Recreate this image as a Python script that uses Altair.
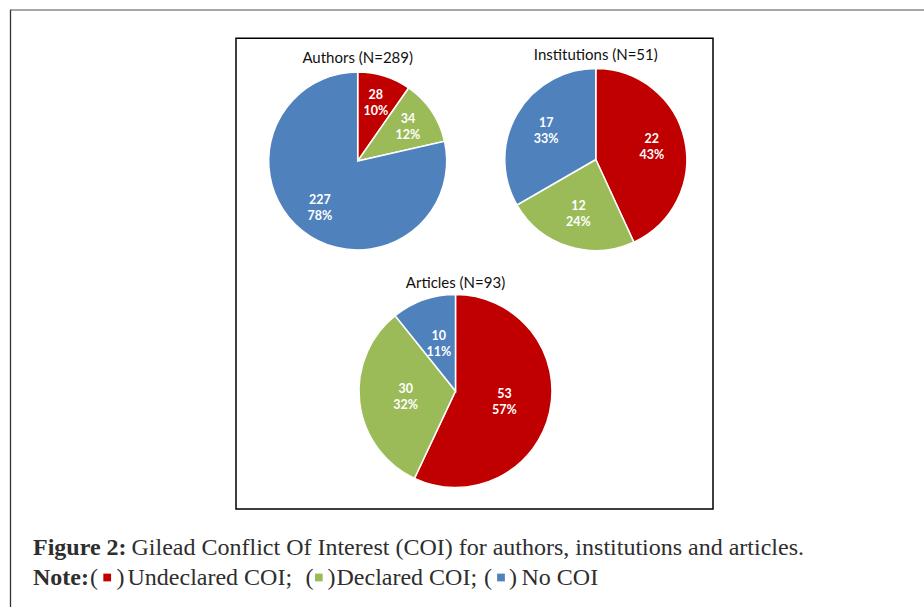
import altair as alt
import pandas as pd

# ---- data ----
categories = ["Undeclared COI", "Declared COI", "No COI"]
colors = ["#C00000", "#9BBB59", "#4F81BD"]

pie_names = ["Authors", "Institutions", "Articles"]
authors_values = [28, 34, 227]
authors_pct = [10, 12, 78]
institutions_values = [22, 12, 17]
institutions_pct = [43, 24, 33]
articles_values = [53, 30, 10]
articles_pct = [57, 32, 11]

caption_title = "Figure 2:"
caption_text = "Gilead Conflict Of Interest (COI) for authors, institutions and articles."
note_label = "Note:"
item_text = ["Undeclared COI;", "Declared COI;", "No COI"]

W, H = 924, 607
color_scale = alt.Scale(domain=categories, range=colors)
LABEL_FONT = "Lato"
SERIF = "Liberation Serif"
CAP_COLOR = "#2e2e2e"
LINE_H = 16


def pie(name, values, pct, cx, cy, r, ty, lab_frac=0.6):
    df = pd.DataFrame({"cat": categories, "value": values, "pct": pct,
                       "idx": list(range(len(categories)))})
    base = alt.Chart(df).encode(
        theta=alt.Theta("value:Q", stack="normalize"),
        color=alt.Color("cat:N", scale=color_scale, legend=None),
        order=alt.Order("idx:Q"),
        x=alt.value(cx),
        y=alt.value(cy),
    )
    arcs = base.mark_arc(outerRadius=r, stroke="white", strokeWidth=1.5)
    labels = base.transform_calculate(
        label="datum.value + '\\n' + datum.pct + '%'"
    ).mark_text(
        radius=r * lab_frac, font=LABEL_FONT, fontSize=12.5, fontWeight="bold",
        lineBreak="\n", lineHeight=LINE_H, baseline="middle", align="center",
        dy=-LINE_H / 2,
    ).encode(text="label:N", color=alt.value("white"))
    title = alt.Chart(pd.DataFrame({"t": [f"{name} (N={sum(values)})"]})).mark_text(
        font=LABEL_FONT, fontSize=15, color="#111111", baseline="middle", align="center"
    ).encode(text="t:N", x=alt.value(cx), y=alt.value(ty))
    return [arcs, labels, title]


def txt(s, x, y, bold=False, size=24):
    return alt.Chart(pd.DataFrame({"t": [s]})).mark_text(
        font=SERIF, fontSize=size, fontWeight="bold" if bold else "normal",
        color=CAP_COLOR, align="left", baseline="alphabetic",
    ).encode(text="t:N", x=alt.value(x), y=alt.value(y))


layers = []

# frames
layers.append(alt.Chart(pd.DataFrame({"a": [0]})).mark_rule(color="#8a8a8a", strokeWidth=1.6).encode(
    x=alt.value(10), x2=alt.value(W), y=alt.value(10)))
layers.append(alt.Chart(pd.DataFrame({"a": [0]})).mark_rule(color="#333333", strokeWidth=1.3).encode(
    x=alt.value(10.5), y=alt.value(10), y2=alt.value(H)))
layers.append(alt.Chart(pd.DataFrame({"a": [0]})).mark_rect(
    fill="transparent", stroke="black", strokeWidth=1.5).encode(
    x=alt.value(236), x2=alt.value(713), y=alt.value(38.3), y2=alt.value(509)))

# pies
layers += pie(pie_names[0], authors_values, authors_pct, 357.7, 161, 89, 57.5, 0.68)
layers += pie(pie_names[1], institutions_values, institutions_pct, 595.8, 159.5, 91, 55, 0.63)
layers += pie(pie_names[2], articles_values, articles_pct, 455.5, 391, 96.5, 282.7, 0.52)

# caption
y1, y2 = 555, 585
layers.append(txt(caption_title, 33, y1, bold=True))
layers.append(txt(caption_text, 131.5, y1))
layers.append(txt(note_label, 33, y2, bold=True))

paren_open_x = [90, 305.5, 484]
square_x = [107.2, 318.8, 501]
paren_close_x = [116.5, 327.5, 509]
item_x = [127.5, 336.5, 521.5]
for i in range(3):
    layers.append(txt("(", paren_open_x[i], y2))
    layers.append(txt(")", paren_close_x[i], y2))
    layers.append(txt(item_text[i], item_x[i], y2))
    layers.append(alt.Chart(pd.DataFrame({"cat": [categories[i]]})).mark_square(
        size=60, opacity=1).encode(
        color=alt.Color("cat:N", scale=color_scale, legend=None),
        x=alt.value(square_x[i]), y=alt.value(577.5)))

chart = alt.layer(*layers).properties(
    width=W, height=H, padding=0, autosize=alt.AutoSizeParams(type="none"),
    background="white",
).configure_view(stroke=None)

chart.save("out.html", embed_options={"renderer": "svg", "actions": False})
